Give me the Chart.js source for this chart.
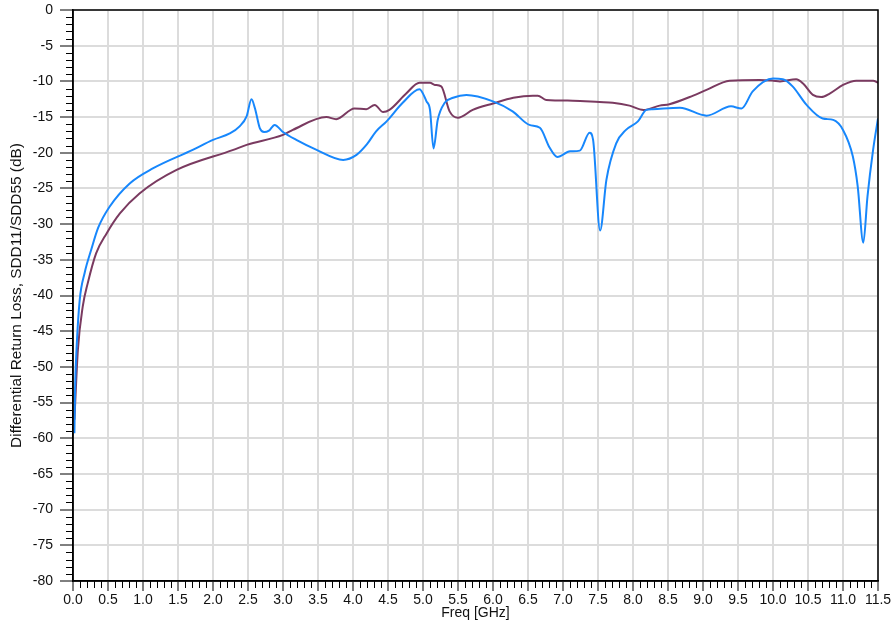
<!DOCTYPE html>
<html>
<head>
<meta charset="utf-8">
<script src="https://cdn.jsdelivr.net/npm/chart.js@4"></script>
<style>
  html, body { margin: 0; padding: 0; background: #fff; }
  #wrap { width: 894px; height: 622px; }
</style>
</head>
<body>
<div id="wrap"><canvas id="rl" width="894" height="622"></canvas></div>
<script>
// SDD11 (blue)
const freqA = [0.02, 0.03, 0.05, 0.096, 0.167, 0.26, 0.36, 0.52, 0.81, 1.14, 1.71, 2.0, 2.24, 2.38, 2.48, 2.55, 2.6, 2.67, 2.73, 2.8, 2.88, 3.0, 3.19, 3.48, 3.86, 4.05, 4.2, 4.33, 4.48, 4.71, 4.95, 5.05, 5.1, 5.15, 5.21, 5.31, 5.43, 5.62, 6.0, 6.28, 6.52, 6.67, 6.81, 6.92, 7.1, 7.24, 7.38, 7.43, 7.53, 7.62, 7.76, 7.9, 8.07, 8.19, 8.28, 8.67, 9.05, 9.4, 9.55, 9.71, 10.0, 10.14, 10.28, 10.48, 10.71, 10.86, 11.0, 11.14, 11.21, 11.29, 11.35, 11.43, 11.5];
const sdd11 = [-59.3, -53.0, -47.6, -40.6, -36.8, -33.6, -30.5, -27.6, -24.3, -22.2, -19.6, -18.2, -17.3, -16.3, -14.9, -12.5, -13.8, -16.6, -17.1, -16.9, -16.1, -17.1, -18.2, -19.6, -21.0, -20.3, -18.8, -17.0, -15.6, -13.0, -11.1, -12.8, -14.0, -19.4, -15.4, -13.0, -12.3, -11.9, -12.8, -14.2, -16.1, -16.5, -19.3, -20.6, -19.8, -19.7, -17.2, -18.2, -30.9, -23.8, -18.7, -16.8, -15.6, -14.0, -13.9, -13.7, -14.8, -13.5, -13.8, -11.4, -9.6, -9.7, -10.7, -13.3, -15.2, -15.4, -16.8, -20.5, -24.7, -32.6, -26.1, -19.6, -15.2];

// SDD55 (maroon)
const freqB = [0.02, 0.07, 0.14, 0.21, 0.33, 0.48, 0.67, 0.95, 1.48, 2.29, 2.48, 3.0, 3.14, 3.62, 3.76, 4.02, 4.19, 4.31, 4.43, 4.52, 4.76, 4.95, 5.1, 5.17, 5.26, 5.38, 5.5, 5.71, 6.0, 6.29, 6.57, 6.64, 6.76, 7.14, 7.52, 7.71, 7.95, 8.15, 8.38, 8.52, 8.86, 9.05, 9.38, 9.81, 10.0, 10.1, 10.33, 10.43, 10.57, 10.69, 10.81, 11.0, 11.19, 11.43, 11.5];
const sdd55 = [-57.4, -47.6, -41.5, -38.3, -34.1, -31.3, -28.5, -25.7, -22.4, -19.6, -18.9, -17.5, -16.8, -15.0, -15.3, -13.8, -13.9, -13.3, -14.3, -14.0, -11.7, -10.2, -10.2, -10.5, -10.7, -14.2, -15.1, -14.0, -13.1, -12.3, -12.0, -12.0, -12.6, -12.7, -12.9, -13.0, -13.4, -14.0, -13.4, -13.2, -12.0, -11.2, -9.9, -9.8, -9.9, -10.0, -9.7, -10.3, -11.9, -12.2, -11.7, -10.5, -9.9, -9.9, -10.2];

const pts = (xs, ys) => xs.map((x, i) => ({ x: x, y: ys[i] }));

// minor ticks + box frame
const frameAndMinor = {
  id: 'frameAndMinor',
  afterDraw(chart) {
    const { ctx, chartArea: a, scales: { x, y } } = chart;
    ctx.save();
    ctx.strokeStyle = '#000';
    ctx.lineWidth = 1;
    ctx.beginPath();
    for (let i = 0; i <= 115; i++) {
      if (i % 5 === 0) continue;
      const px = Math.round(x.getPixelForValue(i / 10)) + 0.5;
      ctx.moveTo(px, a.bottom);
      ctx.lineTo(px, a.bottom + 7);
    }
    for (let v = -80; v <= 0; v++) {
      if (v % 5 === 0) continue;
      const py = Math.round(y.getPixelForValue(v)) + 0.5;
      ctx.moveTo(a.left - 7, py);
      ctx.lineTo(a.left, py);
    }
    ctx.stroke();
    ctx.lineWidth = 1.5;
    ctx.strokeRect(a.left, a.top, a.right - a.left, a.bottom - a.top);
    ctx.restore();
  }
};

const fam = '"Liberation Sans", Arial, sans-serif';
const font = { family: fam, size: 14 };

new Chart(document.getElementById('rl'), {
  type: 'line',
  data: {
    datasets: [
      {
        label: 'SDD11',
        data: pts(freqA, sdd11),
        borderColor: '#1787fc',
        borderWidth: 2,
        pointRadius: 0,
        cubicInterpolationMode: 'monotone'
      },
      {
        label: 'SDD55',
        data: pts(freqB, sdd55),
        borderColor: '#7a3a60',
        borderWidth: 2,
        pointRadius: 0,
        cubicInterpolationMode: 'monotone'
      }
    ]
  },
  options: {
    responsive: false,
    animation: false,
    layout: { padding: { top: 10, right: 16, left: 0, bottom: 0 } },
    plugins: { legend: { display: false }, tooltip: { enabled: false } },
    scales: {
      x: {
        type: 'linear',
        min: 0,
        max: 11.5,
        grid: { color: '#dcdcdc', lineWidth: 2, tickColor: '#000', tickLength: 10, tickWidth: 1 },
        border: { color: '#000', width: 1.5 },
        ticks: {
          stepSize: 0.5,
          color: '#111',
          font: font,
          padding: 1,
          maxRotation: 0,
          autoSkip: false,
          callback: (v) => Number(v).toFixed(1)
        },
        title: { display: true, text: 'Freq [GHz]', color: '#111', font: { family: fam, size: 14 }, padding: { top: 0, bottom: 0 } },
        afterFit: (s) => { s.height = 41; }
      },
      y: {
        min: -80,
        max: 0,
        grid: { color: '#dcdcdc', lineWidth: 2, tickColor: '#000', tickLength: 13, tickWidth: 1 },
        border: { color: '#000', width: 1.5 },
        ticks: { stepSize: 5, color: '#111', font: font, padding: 7 },
        title: { display: true, text: 'Differential Return Loss, SDD11/SDD55 (dB)', color: '#111', font: { family: fam, size: 15.4 }, padding: { top: 8, bottom: 0 } },
        afterFit: (s) => { s.width = 73; s.paddingTop = 8; s.paddingBottom = 8; }
      }
    }
  },
  plugins: [frameAndMinor]
});
</script>
</body>
</html>
